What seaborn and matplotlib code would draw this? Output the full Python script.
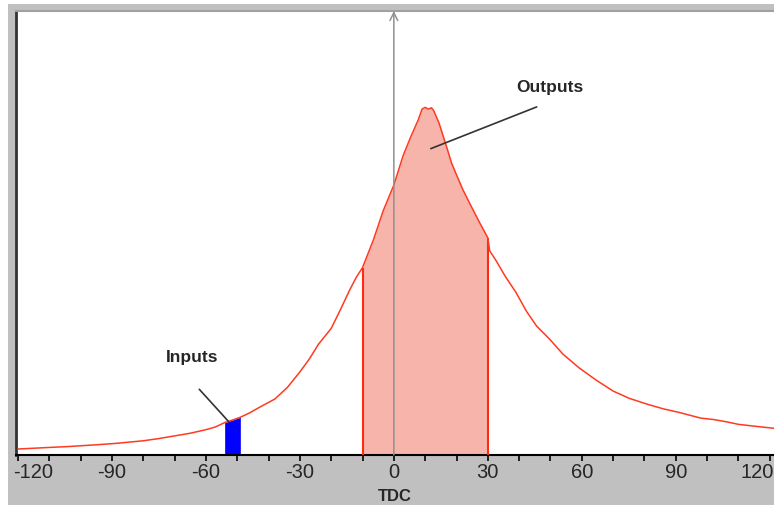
import numpy as np
import pandas as pd
import matplotlib
matplotlib.use("Agg")
import matplotlib.pyplot as plt
import matplotlib.transforms as mtransforms
import seaborn as sns
from matplotlib.patches import Rectangle
from matplotlib.ticker import MultipleLocator

# courbe (angle TDC, hauteur en % de l'axe)
tdc = [-120, -110, -104, -95, -89, -80, -75, -70, -65, -60, -57, -54, -51, -49,
       -46, -43, -38, -34, -30, -27, -24, -20, -17, -14, -12, -10, -6.5, -3.4,
       0, 3, 5.6, 7.8, 9, 10, 11, 12, 12.7, 14.4, 16.8, 18.4, 20, 22, 24.7,
       27.4, 30, 30.6, 32.7, 35.5, 39, 42.3, 45.5, 49.7, 54, 59, 64.5, 70,
       75, 80.6, 86, 91, 98, 102, 106, 110, 115, 121.5]
counts = [1.35, 1.7, 1.9, 2.3, 2.6, 3.2, 3.7, 4.3, 4.9, 5.7, 6.3, 7.3, 8.0, 8.5,
          9.5, 10.7, 12.6, 15.2, 18.7, 21.6, 25.0, 28.5, 32.8, 37.3, 40.0, 42.2,
          48.5, 55.0, 60.8, 67.5, 72.0, 75.5, 77.9, 78.3, 77.9, 78.2, 77.6, 74.8,
          69.5, 65.8, 63.1, 59.8, 56.0, 52.3, 48.9, 46.0, 43.7, 40.3, 36.6, 32.4,
          29.1, 26.1, 22.7, 19.7, 16.9, 14.4, 12.8, 11.5, 10.4, 9.6, 8.3, 8.0,
          7.5, 6.9, 6.5, 6.0]

inputs_range = (-54, -49)
outputs_range = (-10, 30)
xticks = [-120, -90, -60, -30, 0, 30, 60, 90, 120]

df = pd.DataFrame({"tdc": tdc, "counts": counts})
x = df["tdc"].values
y = df["counts"].values

sns.set_style("white")
plt.rcParams["font.family"] = ["Liberation Sans", "DejaVu Sans"]
plt.rcParams["axes.unicode_minus"] = False

fig = plt.figure(figsize=(7.74, 5.06), dpi=100, facecolor="#c0c0c0")
# bandes blanches en haut et a gauche
fig.patches.append(Rectangle((0, 0), 8 / 774, 1, transform=fig.transFigure,
                             facecolor="white", edgecolor="none", zorder=-1))
fig.patches.append(Rectangle((0, 1 - 5 / 506), 1, 5 / 506, transform=fig.transFigure,
                             facecolor="white", edgecolor="none", zorder=-1))

ax = fig.add_axes([16 / 774, 50 / 506, 758.5 / 774, 444 / 506])
ax.set_facecolor("white")

# zone des sorties
m = (x >= outputs_range[0]) & (x <= outputs_range[1])
ax.fill_between(x, 0, y, where=m, color="#f7b4aa", linewidth=0, zorder=1)
ax.vlines([outputs_range[0], outputs_range[1]], 0,
          [y[x == outputs_range[0]][0], y[x == outputs_range[1]][0]],
          color="#ff2a10", lw=1.5, zorder=3)

# zone des entrees
m2 = (x >= inputs_range[0]) & (x <= inputs_range[1])
ax.fill_between(x, 0, y, where=m2, color="#0000ff", linewidth=0, zorder=2)

sns.lineplot(data=df, x="tdc", y="counts", color="#ff3a20", lw=1.1, ax=ax, zorder=4)

# fleche verticale a 0
ax.annotate("", xy=(0, 100), xytext=(0, 0),
            arrowprops=dict(arrowstyle="->", color="#909090", lw=1.1,
                            mutation_scale=14, shrinkA=0, shrinkB=0), zorder=5)

# etiquettes et traits de rappel
ax.plot([45.6, 11.8], [78.4, 69.0], color="#333333", lw=1.2, zorder=6)
ax.text(49.8, 83.1, "Outputs", fontsize=12.5, fontweight="bold",
        ha="center", va="center", zorder=6)
ax.plot([-62.1, -52.7], [14.8, 7.5], color="#333333", lw=1.2, zorder=6)
ax.text(-64.5, 22.1, "Inputs", fontsize=12.5, fontweight="bold",
        ha="center", va="center", zorder=6)

ax.set_xlim(-120.6, 121.5)
ax.set_ylim(0, 100)
ax.set_xticks(xticks)
ax.xaxis.set_minor_locator(MultipleLocator(10))
ax.set_yticks([])
ax.tick_params(axis="x", which="both", direction="out", length=4, width=1.2,
               color="black", bottom=True, labelsize=14.5, pad=1)
ax.set_xlabel("TDC", fontsize=12, fontweight="bold", labelpad=5)
ax.set_ylabel("")

# les etiquettes des extremites sont decalees vers l'interieur
labels = ax.get_xticklabels()
shift_first = mtransforms.ScaledTranslation(15 / 100, 0, fig.dpi_scale_trans)
shift_last = mtransforms.ScaledTranslation(-13 / 100, 0, fig.dpi_scale_trans)
labels[0].set_transform(labels[0].get_transform() + shift_first)
labels[-1].set_transform(labels[-1].get_transform() + shift_last)

ax.spines["right"].set_visible(False)
ax.spines["top"].set_color("#a0a0a0")
ax.spines["top"].set_linewidth(1.5)
ax.spines["left"].set_color("#333333")
ax.spines["left"].set_linewidth(2)
ax.spines["bottom"].set_color("black")
ax.spines["bottom"].set_linewidth(1.5)

fig.savefig("out.png", dpi=100, facecolor=fig.get_facecolor())
